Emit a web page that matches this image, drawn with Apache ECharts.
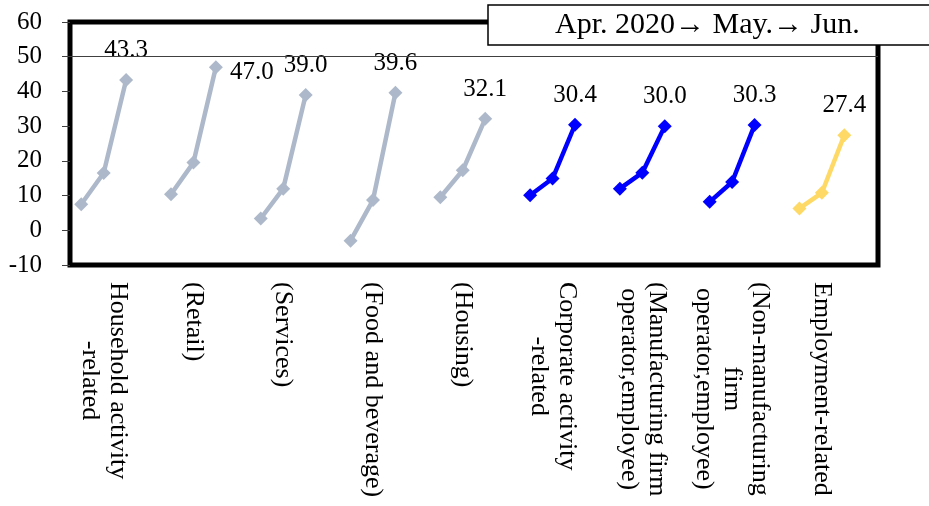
<!DOCTYPE html>
<html>
<head>
<meta charset="utf-8">
<script src="https://cdn.jsdelivr.net/npm/echarts@6/dist/echarts.min.js"></script>
<style>
  html, body { margin: 0; padding: 0; background: #fff; }
  #chart { width: 929px; height: 506px; }
</style>
</head>
<body>
<div id="chart"></div>
<script>
// Sector groups along the x axis
const categories = [
  'Household activity\n-related',
  '(Retail)',
  '(Services)',
  '(Food and beverage)',
  '(Housing)',
  'Corporate activity\n-related',
  '(Manufacturing firm\noperator,employee)',
  '(Non-manufacturing\nfirm\noperator,employee)',
  'Employment-related'
];
const sectorKind = ['household', 'household', 'household', 'household', 'household',
                    'corporate', 'corporate', 'corporate', 'employment'];

// Index values for each month
const aprValues = [7.5, 10.4, 3.4, -3.0, 9.5, 10.1, 12.0, 8.2, 6.3];
const mayValues = [16.5, 19.5, 12.0, 8.7, 17.3, 14.9, 16.6, 13.9, 10.8];
const junValues = [43.3, 47.0, 39.0, 39.6, 32.1, 30.4, 30.0, 30.3, 27.4];

// Value axis ticks
const yMin = -10, yMax = 60, yStep = 10;
const referenceLevel = 50;
const periodNote = 'Apr. 2020\u2192 May.\u2192 Jun.';

// ---- styling ----
const FONT = '"Liberation Serif", "Times New Roman", serif';
const kindColor = { household: '#ADB9CA', corporate: '#0000FF', employment: '#FFD966' };
const SLOTS_PER_GROUP = 4; // three months plus a spacer

const slotCount = categories.length * SLOTS_PER_GROUP;
const slotKeys = Array.from({ length: slotCount }, (_, i) => 's' + i);

const series = categories.map((name, k) => {
  const data = slotKeys.map(() => '-');
  const base = k * SLOTS_PER_GROUP;
  data[base] = aprValues[k];
  data[base + 1] = mayValues[k];
  const lastLabel = k === 1
    ? { show: true, position: 'right', distance: 7, offset: [0, 5] }
    : { show: true, position: 'top', distance: 10 };
  data[base + 2] = { value: junValues[k], label: lastLabel };
  const color = kindColor[sectorKind[k]];
  const s = {
    type: 'line',
    name: name,
    data: data,
    connectNulls: false,
    symbol: 'diamond',
    symbolSize: 14,
    lineStyle: { color: color, width: 4.5 },
    itemStyle: { color: color },
    label: {
      show: false,
      fontFamily: FONT,
      fontSize: 25,
      color: '#000',
      formatter: p => Number(p.value).toFixed(1)
    },
    z: 3
  };
  if (k === 0) {
    s.markLine = {
      silent: true,
      symbol: 'none',
      label: { show: false },
      lineStyle: { color: '#404040', width: 1, type: 'solid' },
      data: [{ yAxis: referenceLevel }]
    };
  }
  return s;
});

const chart = echarts.init(document.getElementById('chart'), null, { renderer: 'canvas' });
chart.setOption({
  animation: false,
  backgroundColor: '#fff',
  title: {
    text: periodNote,
    left: 488,
    top: 5,
    padding: [4, 80, 4, 67],
    borderColor: '#000',
    borderWidth: 1.5,
    backgroundColor: '#fff',
    textStyle: { fontFamily: FONT, fontSize: 30, fontWeight: 'normal', color: '#000', lineHeight: 32 },
    z: 10
  },
  grid: {
    left: 70, right: 51, top: 22, bottom: 241,
    show: true,
    borderColor: '#000',
    borderWidth: 5,
    backgroundColor: 'transparent'
  },
  xAxis: {
    type: 'category',
    data: slotKeys,
    boundaryGap: true,
    axisLine: { show: false },
    axisTick: { show: false },
    splitLine: { show: false },
    axisLabel: {
      interval: 0,
      rotate: -90,
      margin: 17,
      hideOverlap: false,
      fontFamily: FONT,
      fontSize: 26,
      lineHeight: 28,
      color: '#000',
      formatter: (val, idx) => {
        if (idx % SLOTS_PER_GROUP !== 1) return '';
        const name = categories[(idx - 1) / SLOTS_PER_GROUP];
        return name.split('\n').map(line => '{c|' + line + '}').join('\n');
      },
      rich: {
        c: { align: 'center', fontFamily: FONT, fontSize: 26, lineHeight: 28, color: '#000' }
      }
    }
  },
  yAxis: {
    type: 'value',
    min: yMin,
    max: yMax,
    interval: yStep,
    axisLine: { show: false },
    axisTick: { show: true, length: 8, lineStyle: { color: '#404040', width: 1 } },
    splitLine: { show: false },
    axisLabel: {
      margin: 28,
      fontFamily: FONT,
      fontSize: 25,
      color: '#000'
    }
  },
  series: series
});
</script>
</body>
</html>
